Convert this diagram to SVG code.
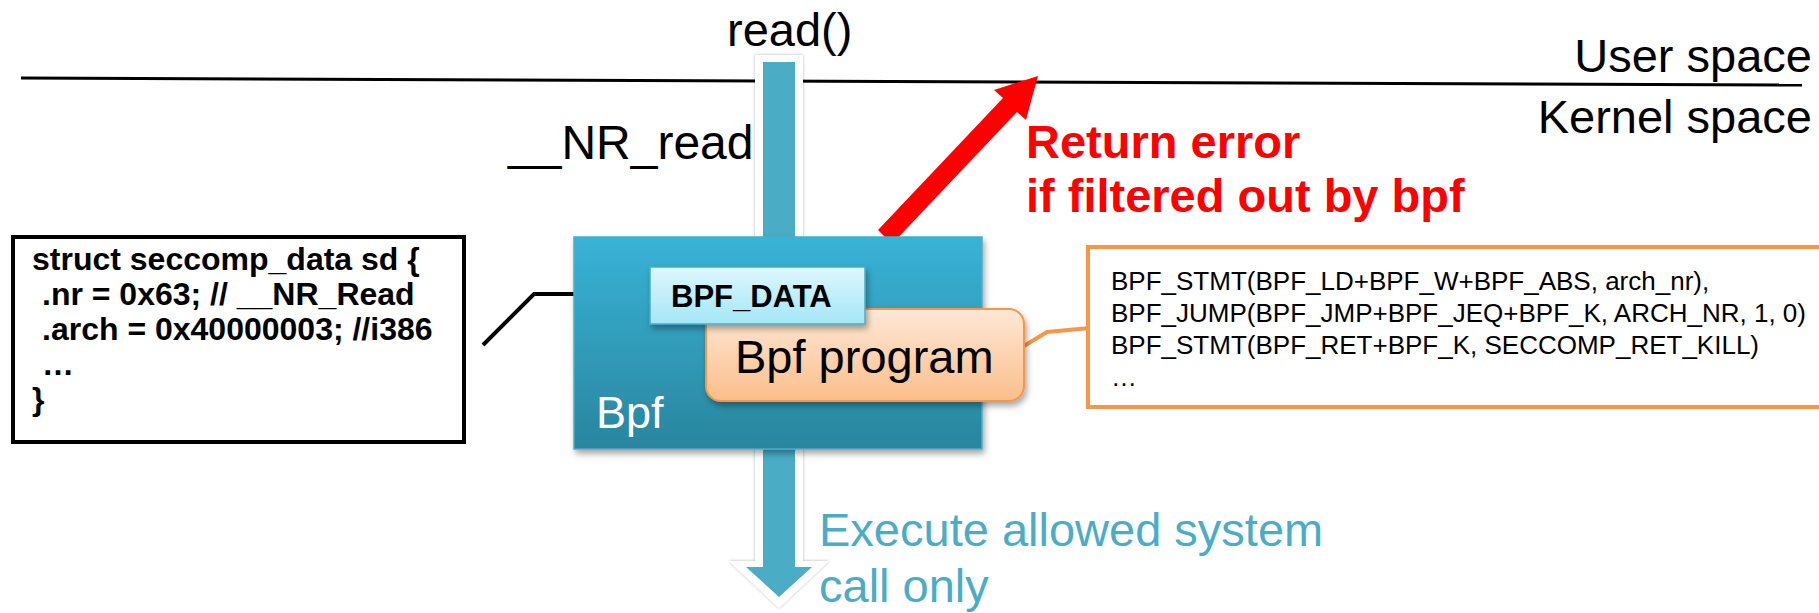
<svg xmlns="http://www.w3.org/2000/svg" width="1819" height="613" viewBox="0 0 1819 613">
<defs>
<linearGradient id="gBpf" x1="0" y1="0" x2="0" y2="1"><stop offset="0" stop-color="#38b3d7"/><stop offset="1" stop-color="#2a859e"/></linearGradient>
<linearGradient id="gData" x1="0" y1="0" x2="0" y2="1"><stop offset="0" stop-color="#def7fd"/><stop offset="1" stop-color="#a4e6f8"/></linearGradient>
<linearGradient id="gProg" x1="0" y1="0" x2="0" y2="1"><stop offset="0" stop-color="#fee8d7"/><stop offset="1" stop-color="#fbbe8a"/></linearGradient>
<filter id="shadow" x="-10%" y="-10%" width="130%" height="130%"><feDropShadow dx="2" dy="4" stdDeviation="3" flood-color="#000" flood-opacity="0.35"/></filter>
<filter id="soft" x="-20%" y="-10%" width="140%" height="120%"><feDropShadow dx="0" dy="0" stdDeviation="1.5" flood-color="#000" flood-opacity="0.3"/></filter>
</defs>
<style>
.t{font-family:"Liberation Sans",Arial,sans-serif;}
.big{font-size:47px;fill:#000}
.b{font-weight:bold}
.code{font-size:26px;fill:#000}
.sd{font-size:32px;font-weight:bold;fill:#000}
.flow{fill:#4bacc6}
.halo{fill:#fff}
.conn{stroke:#000;stroke-width:4;fill:none}
.oconn{stroke:#f79646;stroke-width:4;fill:none}
</style>

<g id="boundary">
<line x1="21" y1="78" x2="1802" y2="85" stroke="#000" stroke-width="3"/>
<text class="t big" x="1812" y="72" text-anchor="end">User space</text>
<text class="t big" x="1812" y="133" text-anchor="end">Kernel space</text>
</g>

<g id="connectors">
<path class="halo" filter="url(#soft)" d="M755,55 H803 V245 H755 Z"/>
<rect class="flow" x="763" y="62" width="32" height="185"/>
<polygon fill="#ff0000" points="878,230 1003,98 994,90 1038,76 1026,120 1017,112 892,244"/>
<path class="halo" filter="url(#soft)" d="M755,445 V561 H729 L779,608 L829,561 H803 V445 Z"/>
<path class="flow" d="M763,445 V567 H746 L779,597 L812,567 H795 V445 Z"/>
<polyline class="conn" points="483,345 534,294 641,294"/>
<polyline class="oconn" points="1024,346 1047,332 1090,328"/>
</g>

<g id="read-label">
<text class="t big" x="727" y="46">read()</text>
</g>

<g id="nr-read-label">
<text class="t" x="508" y="159" font-size="48">__NR_read</text>
</g>

<g id="return-error-label">
<text class="t b" x="1026" y="158" font-size="47" fill="#ff0000">Return error</text>
<text class="t b" x="1026" y="212" font-size="47" fill="#ff0000">if filtered out by bpf</text>
</g>

<g id="bpf">
<rect x="574" y="237" width="408" height="212" fill="url(#gBpf)" stroke="#4aaec8" stroke-width="1.5" filter="url(#shadow)"/>
<text class="t" x="596" y="428" font-size="45" fill="#fff">Bpf</text>
</g>

<g id="bpf-program">
<rect x="706" y="309" width="318" height="92" rx="15" fill="url(#gProg)" stroke="#f79646" stroke-width="2" filter="url(#shadow)"/>
<text class="t big" x="735" y="373">Bpf program</text>
</g>

<g id="bpf-data">
<rect x="650" y="267" width="215" height="57" fill="url(#gData)" stroke="#4bacc6" stroke-width="1.5" filter="url(#shadow)"/>
<text class="t b" x="671" y="307" font-size="31">BPF_DATA</text>
</g>

<g id="struct-box">
<rect x="13" y="237" width="451" height="205" fill="#fff" stroke="#000" stroke-width="4"/>
<text class="t sd" x="32" y="270">struct seccomp_data sd {</text>
<text class="t sd" x="42" y="305">.nr = 0x63; // __NR_Read</text>
<text class="t sd" x="42" y="340">.arch = 0x40000003; //i386</text>
<text class="t sd" x="42" y="375">…</text>
<text class="t sd" x="32" y="410">}</text>
</g>

<g id="code-box">
<rect x="1088" y="247" width="745" height="160" fill="#fff" stroke="#f79646" stroke-width="4"/>
<text class="t code" x="1111" y="290">BPF_STMT(BPF_LD+BPF_W+BPF_ABS, arch_nr),</text>
<text class="t code" x="1111" y="322">BPF_JUMP(BPF_JMP+BPF_JEQ+BPF_K, ARCH_NR, 1, 0)</text>
<text class="t code" x="1111" y="354">BPF_STMT(BPF_RET+BPF_K, SECCOMP_RET_KILL)</text>
<text class="t code" x="1111" y="386">…</text>
</g>

<g id="execute-label">
<text class="t" x="819" y="546" font-size="47" fill="#4bacc6">Execute allowed system</text>
<text class="t" x="819" y="602" font-size="47" fill="#4bacc6">call only</text>
</g>
</svg>
